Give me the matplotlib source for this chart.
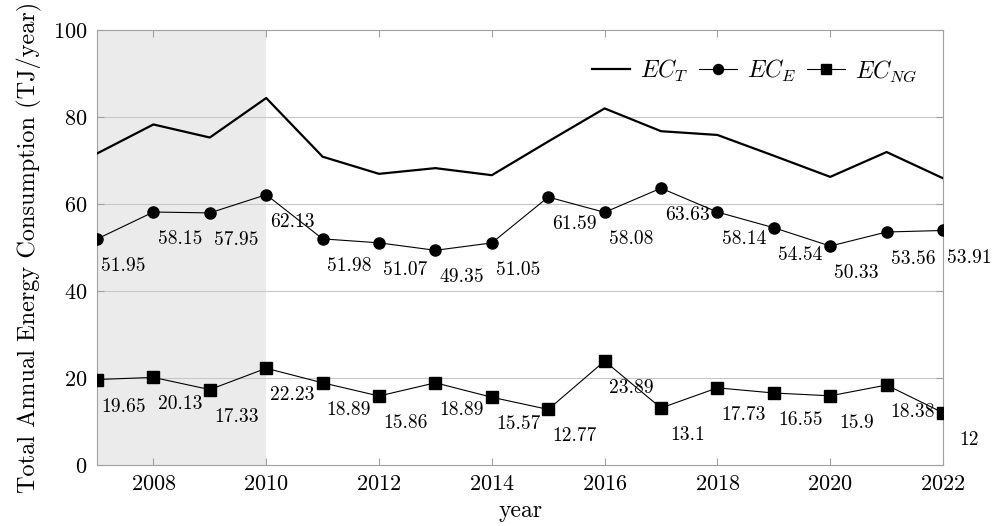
import matplotlib
matplotlib.use("Agg")
import matplotlib.pyplot as plt

plt.rcParams["font.family"] = "serif"
plt.rcParams["font.serif"] = ["cmr10", "DejaVu Serif"]
plt.rcParams["mathtext.fontset"] = "cm"
plt.rcParams["axes.unicode_minus"] = False
plt.rcParams["axes.formatter.use_mathtext"] = True

years = [2007, 2008, 2009, 2010, 2011, 2012, 2013, 2014, 2015,
         2016, 2017, 2018, 2019, 2020, 2021, 2022]
ec_e = [51.95, 58.15, 57.95, 62.13, 51.98, 51.07, 49.35, 51.05, 61.59,
        58.08, 63.63, 58.14, 54.54, 50.33, 53.56, 53.91]
ec_ng = [19.65, 20.13, 17.33, 22.23, 18.89, 15.86, 18.89, 15.57, 12.77,
         23.89, 13.1, 17.73, 16.55, 15.9, 18.38, 12]
ec_t = [e + n for e, n in zip(ec_e, ec_ng)]
shade_span = (2007, 2010)
x_ticks = [2008, 2010, 2012, 2014, 2016, 2018, 2020, 2022]
y_ticks = [0, 20, 40, 60, 80, 100]

fig, ax = plt.subplots(figsize=(9.96, 5.26), dpi=100)
fig.subplots_adjust(left=0.0974, right=0.9468, top=0.943, bottom=0.116)

ax.axvspan(*shade_span, color="#ebebeb", lw=0, zorder=0)
for y in y_ticks[1:-1]:
    ax.axhline(y, color="#c8c8c8", lw=0.8, zorder=1)

ax.plot(years, ec_t, color="black", lw=1.6, label=r"$EC_T$", zorder=3)
ax.plot(years, ec_e, color="black", lw=0.8, marker="o", ms=8,
        label=r"$EC_E$", zorder=3)
ax.plot(years, ec_ng, color="black", lw=0.8, marker="s", ms=8,
        label=r"$EC_{NG}$", zorder=3)

def fmt(v):
    return f"{v:g}"

for series in (ec_e, ec_ng):
    for x, v in zip(years, series):
        ax.annotate(fmt(v), (x, v), xytext=(19, -19.5), textcoords="offset points",
                    ha="center", va="center", fontsize=14, zorder=4)

ax.set_xlim(2007, 2022)
ax.set_ylim(0, 100)
ax.set_xticks(x_ticks)
ax.set_yticks(y_ticks)
ax.tick_params(direction="in", length=5, width=0.8, color="#a0a0a0",
               labelsize=16, top=True, right=True, pad=7)
for s in ax.spines.values():
    s.set_color("#a0a0a0")
    s.set_linewidth(0.8)

ax.set_xlabel("year", fontsize=17, labelpad=4)
ax.set_ylabel("Total Annual Energy Consumption (TJ/year)", fontsize=17.5, labelpad=8)

leg = ax.legend(loc="upper right", ncol=3, frameon=False, fontsize=17,
                handlelength=1.6, handletextpad=0.45, columnspacing=0.45,
                bbox_to_anchor=(0.995, 0.985), markerscale=0.9)

fig.savefig("out.png", dpi=100)
